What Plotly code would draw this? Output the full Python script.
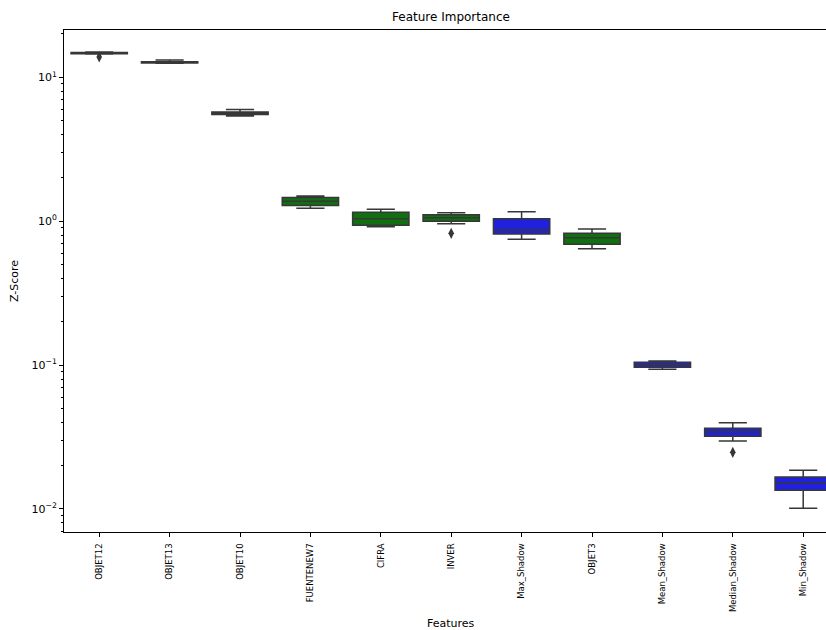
import plotly.graph_objects as go

# Feature importance summary (Z-score distributions per feature)
features = ["OBJET12", "OBJET13", "OBJET10", "FUENTENEW7", "CIFRA", "INVER",
            "Max_Shadow", "OBJET3", "Mean_Shadow", "Median_Shadow", "Min_Shadow"]
groups = ["accepted", "accepted", "accepted", "accepted", "accepted", "accepted",
          "shadow", "accepted", "shadow", "shadow", "shadow"]
lower_whisker = [14.5, 12.5, 5.38, 1.229, 0.916, 0.961, 0.749, 0.644, 0.0935, 0.02969, 0.01011]
q1_vals = [14.6, 12.57, 5.51, 1.285, 0.936, 0.998, 0.815, 0.691, 0.0965, 0.0320, 0.01349]
median_vals = [14.75, 12.7, 5.65, 1.375, 1.041, 1.057, 0.869, 0.768, 0.1007, 0.03445, 0.01523]
q3_vals = [14.9, 12.8, 5.74, 1.461, 1.153, 1.110, 1.041, 0.824, 0.1046, 0.03637, 0.01669]
upper_whisker = [15.0, 13.2, 5.97, 1.496, 1.21, 1.146, 1.164, 0.883, 0.1068, 0.03979, 0.01858]
outlier_features = ["OBJET12", "INVER", "Median_Shadow"]
outlier_values = [13.85, 0.824, 0.02477]

fill_colors = {"accepted": "rgb(16,112,16)", "shadow": "rgb(32,32,223)"}
edge = "rgb(55,55,55)"

fig = go.Figure()
for i, name in enumerate(features):
    fig.add_trace(go.Box(
        x=[name], q1=[q1_vals[i]], median=[median_vals[i]], q3=[q3_vals[i]],
        lowerfence=[lower_whisker[i]], upperfence=[upper_whisker[i]],
        width=0.8, whiskerwidth=0.5, boxpoints=False,
        fillcolor=fill_colors[groups[i]],
        line=dict(color=edge, width=1.5),
        showlegend=False,
    ))

fig.add_trace(go.Scatter(
    x=outlier_features, y=outlier_values, mode="markers",
    marker=dict(symbol="diamond-tall", size=8, color=edge, line=dict(width=0)),
    showlegend=False,
))

W, H = 826, 630
left, top, bottom = 64, 30, 98
tick_step = 70.4
x_hi = (W - left) / tick_step - 0.5

major = [0.01, 0.1, 1, 10]
major_text = ["10<sup>−2</sup>", "10<sup>−1</sup>", "10<sup>0</sup>", "10<sup>1</sup>"]
minor = [m * 10 ** e for e in range(-3, 2) for m in range(2, 10)]

fig.update_layout(
    width=W, height=H,
    margin=dict(l=left, r=0, t=top, b=bottom),
    paper_bgcolor="white", plot_bgcolor="white",
    font=dict(family="DejaVu Sans", color="black", size=10),
    boxmode="overlay",
    xaxis=dict(
        type="category", categoryorder="array", categoryarray=features,
        range=[-0.5, x_hi],
        showline=True, linecolor="black", linewidth=1, mirror=True,
        showgrid=False, zeroline=False,
        ticks="outside", ticklen=4, tickcolor="black",
        tickangle=-90, tickfont=dict(size=8.5), ticklabelstandoff=3,
    ),
    yaxis=dict(
        type="log", range=[-2.160, 1.3287],
        showline=True, linecolor="black", linewidth=1, mirror=False,
        showgrid=False, zeroline=False,
        tickmode="array", tickvals=major, ticktext=major_text,
        ticks="outside", ticklen=4, tickcolor="black",
        tickfont=dict(size=11),
        minor=dict(tickmode="array", tickvals=minor, ticks="outside",
                   ticklen=2, tickcolor="black", showgrid=False),
    ),
    annotations=[
        dict(text="Feature Importance", xref="paper", yref="paper",
             x=(451.5 - left) / (W - left), y=1, yshift=4,
             xanchor="center", yanchor="bottom", showarrow=False,
             font=dict(size=12)),
        dict(text="Features", xref="paper", yref="paper",
             x=(451.5 - left) / (W - left), y=0, yshift=-91,
             xanchor="center", yanchor="middle", showarrow=False,
             font=dict(size=11)),
        dict(text="Z-Score", xref="paper", yref="paper",
             x=0, xshift=-50, y=0.5, textangle=-90,
             xanchor="center", yanchor="middle", showarrow=False,
             font=dict(size=11)),
    ],
)

fig.write_html("out.html")
